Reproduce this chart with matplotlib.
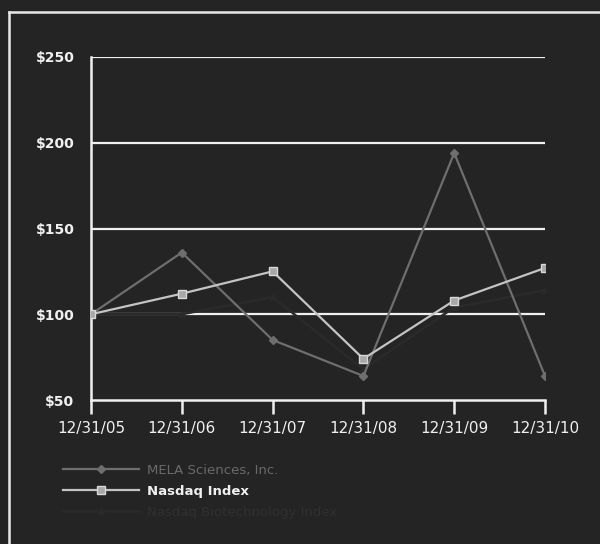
import matplotlib.pyplot as plt
from matplotlib.lines import Line2D

dates = ['12/31/05', '12/31/06', '12/31/07', '12/31/08', '12/31/09', '12/31/10']
mela = [100, 136, 85, 64, 194, 64]
nasdaq = [100, 112, 125, 74, 108, 127]
third = [100, 100, 110, 68, 104, 114]
labels = ['MELA Sciences, Inc.', 'Nasdaq Index', 'Nasdaq Biotechnology Index']
yticks = [50, 100, 150, 200, 250]

bg = '#242424'
fig = plt.figure(figsize=(6, 5.44), dpi=100, facecolor=bg)
ax = fig.add_axes([91/600, 1 - 400/544, 454/600, 343/544])
ax.set_facecolor(bg)

# frame around the whole graphic
fig.add_artist(Line2D([9/600, 9/600], [0, 1 - 12/544], transform=fig.transFigure,
                      color='#e8e8e8', lw=1.8))
fig.add_artist(Line2D([9/600, 1], [1 - 12/544, 1 - 12/544], transform=fig.transFigure,
                      color='#e8e8e8', lw=1.8))

x = list(range(len(dates)))
for v in yticks[1:]:
    ax.axhline(v, color='#f0f0f0', lw=1.6, zorder=1)

ax.plot(x, third, color='#2a2a2a', lw=1.8, marker='^', ms=5, zorder=2, label=labels[2])
ax.plot(x, mela, color='#6e6e6e', lw=1.6, marker='D', ms=4.5, zorder=3, label=labels[0])
ax.plot(x, nasdaq, color='#c4c4c4', lw=1.6, marker='s', ms=5.5, mfc='#a8a8a8', mec='#d8d8d8',
        zorder=4, label=labels[1])

ax.set_xlim(0, 5)
ax.set_ylim(50, 250)
ax.set_yticks(yticks)
ax.set_yticklabels(['$%d' % v for v in yticks], fontsize=10, fontweight='bold', color='#f0f0f0')
ax.set_xticks(x)
ax.set_xticklabels(dates, fontsize=11, color='#f0f0f0')
ax.tick_params(axis='x', direction='out', length=10, width=1.8, color='#f0f0f0', pad=5)
ax.tick_params(axis='y', length=0, pad=12)
for s in ['top', 'right']:
    ax.spines[s].set_visible(False)
for s in ['left', 'bottom']:
    ax.spines[s].set_color('#f0f0f0')
    ax.spines[s].set_linewidth(1.8)
    ax.spines[s].set_clip_on(False)

h, l = ax.get_legend_handles_labels()
order = [1, 2, 0]
leg = fig.legend([h[i] for i in order], [l[i] for i in order], loc='upper left',
                 bbox_to_anchor=(51/600, 1 - 452/544), frameon=False, fontsize=9.5,
                 handlelength=5.8, labelspacing=0.6, handletextpad=0.6)
cols = ['#6a6a6a', '#f0f0f0', '#303030']
for t, c in zip(leg.get_texts(), cols):
    t.set_color(c)
leg.get_texts()[1].set_fontweight('bold')

fig.savefig('out.png', dpi=100, facecolor=bg)
